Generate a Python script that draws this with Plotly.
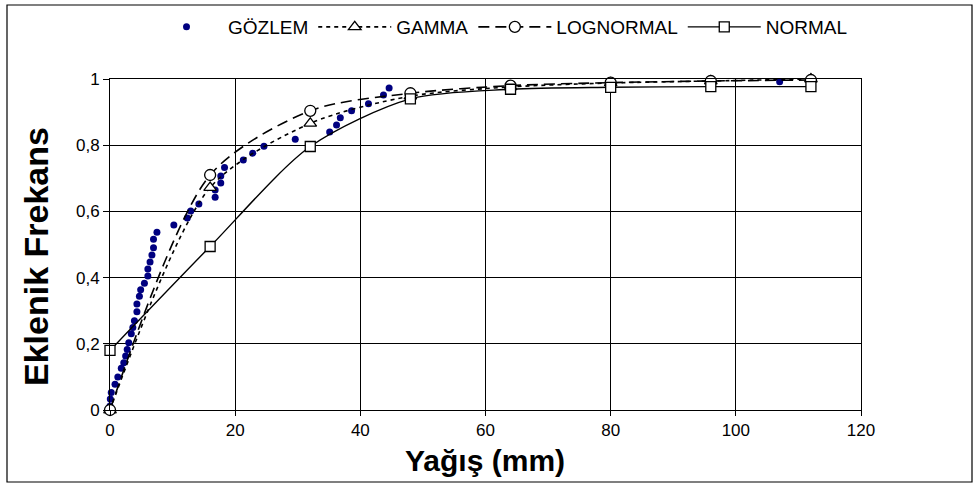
import plotly.graph_objects as go

# Observed (GÖZLEM)
obs_x = [0.0, 0.05, 0.2, 0.8, 1.25, 1.8, 2.2, 2.5, 2.75, 3.0, 3.4, 3.65, 3.9, 4.3, 4.3,
         4.7, 4.9, 5.5, 6.05, 6.05, 6.4, 6.7, 6.95, 6.95, 7.5, 10.2, 12.35, 12.9, 14.2,
         16.8, 16.8, 17.7, 17.7, 18.3, 21.3, 22.8, 24.6, 29.6, 35.1, 36.2, 36.8, 38.6,
         41.3, 43.7, 44.6, 107.0]
obs_y = [0.012, 0.033, 0.053, 0.078, 0.10, 0.126, 0.143, 0.163, 0.183, 0.203, 0.23, 0.249,
         0.27, 0.297, 0.32, 0.344, 0.363, 0.383, 0.405, 0.426, 0.447, 0.468, 0.49, 0.516,
         0.537, 0.559, 0.58, 0.601, 0.622, 0.643, 0.665, 0.686, 0.707, 0.733, 0.755, 0.776,
         0.797, 0.818, 0.840, 0.861, 0.883, 0.904, 0.925, 0.952, 0.973, 0.992]

# Fitted distributions
fit_x = [0, 16, 32, 48, 64, 80, 96, 112]
gamma_y = [0.0, 0.672, 0.866, 0.948, 0.976, 0.988, 0.994, 1.0]
lognormal_y = [0.0, 0.71, 0.904, 0.957, 0.98, 0.989, 0.994, 0.997]
normal_y = [0.18, 0.494, 0.796, 0.94, 0.969, 0.975, 0.977, 0.977]

x_ticks = [0, 20, 40, 60, 80, 100, 120]
y_ticks = [0, 0.2, 0.4, 0.6, 0.8, 1]

W, H = 975, 485
L, R, T, B = 110, 114, 79, 75
pw, ph = W - L - R, H - T - B

FONT = "Liberation Sans, Arial, sans-serif"

fig = go.Figure()
fig.add_trace(go.Scatter(
    x=obs_x, y=obs_y, mode="markers", name="GÖZLEM",
    marker=dict(color="#000080", size=7), cliponaxis=False))
fig.add_trace(go.Scatter(
    x=fit_x, y=gamma_y, mode="lines+markers", name="GAMMA",
    line=dict(color="black", width=1.6, dash="4px,4px", shape="spline", smoothing=0.8),
    marker=dict(symbol="triangle-up", size=11, color="white",
                line=dict(color="black", width=1.3)), cliponaxis=False))
fig.add_trace(go.Scatter(
    x=fit_x, y=lognormal_y, mode="lines+markers", name="LOGNORMAL",
    line=dict(color="black", width=1.6, dash="11px,6px", shape="spline", smoothing=0.8),
    marker=dict(symbol="circle", size=11, color="white",
                line=dict(color="black", width=1.3)), cliponaxis=False))
fig.add_trace(go.Scatter(
    x=fit_x, y=normal_y, mode="lines+markers", name="NORMAL",
    line=dict(color="black", width=1.4, shape="spline", smoothing=0.8),
    marker=dict(symbol="square", size=10, color="white",
                line=dict(color="black", width=1.3)), cliponaxis=False))

def px_x(p):
    return (p - L) / pw

def px_y(p):
    return (H - B - p) / ph

fig.update_layout(
    width=W, height=H,
    margin=dict(l=L, r=R, t=T, b=B, autoexpand=False),
    paper_bgcolor="white", plot_bgcolor="white",
    separators=", ",
    font=dict(family=FONT, size=17, color="black"),
    showlegend=True,
    legend=dict(orientation="h", x=px_x(499), xanchor="center",
                y=px_y(27), yanchor="middle", font=dict(size=19),
                itemwidth=73, bgcolor="rgba(0,0,0,0)", tracegroupgap=0),
    xaxis=dict(range=[0, 120], tickvals=x_ticks, showgrid=True, gridcolor="black",
               gridwidth=1, zeroline=False, showline=True, linecolor="black",
               linewidth=1, mirror=True, ticks="outside", ticklen=5, tickcolor="black",
               tickfont=dict(size=17), automargin=False),
    yaxis=dict(range=[0, 1], tickvals=y_ticks, showgrid=True, gridcolor="black",
               gridwidth=1, zeroline=False, showline=True, linecolor="black",
               linewidth=1, mirror=True, ticks="outside", ticklen=6, tickcolor="black",
               tickfont=dict(size=17), automargin=False),
    annotations=[
        dict(text="<b>Yağış (mm)</b>", xref="paper", yref="paper",
             x=px_x(485), y=px_y(460), xanchor="center", yanchor="middle",
             showarrow=False, font=dict(size=30)),
        dict(text="<b>Eklenik Frekans</b>", xref="paper", yref="paper",
             x=px_x(36), y=px_y(257), xanchor="center", yanchor="middle",
             showarrow=False, textangle=-90, font=dict(size=34)),
    ],
    shapes=[dict(type="rect", xref="paper", yref="paper",
                 x0=px_x(7), x1=px_x(972), y0=px_y(482), y1=px_y(5),
                 line=dict(color="black", width=1.2), fillcolor="rgba(0,0,0,0)",
                 layer="below")],
)

fig.write_html("out.html", config={"displayModeBar": False},
               post_script="document.body.style.margin='0';")
